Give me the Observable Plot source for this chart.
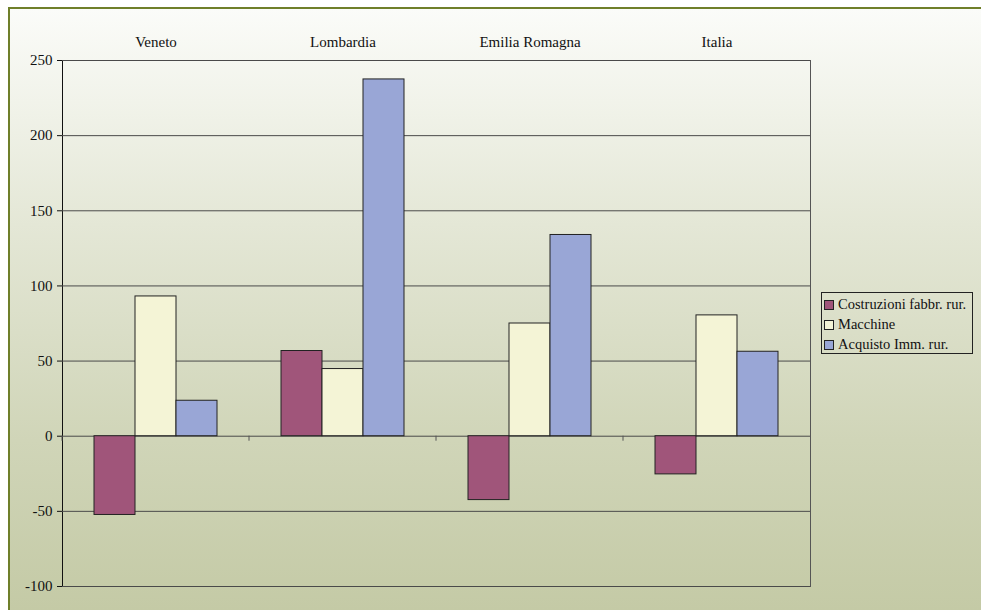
<!DOCTYPE html>
<html>
<head>
<meta charset="utf-8">
<script src="https://cdn.jsdelivr.net/npm/d3@7"></script>
<script src="https://cdn.jsdelivr.net/npm/@observablehq/plot@0.6"></script>
<style>
  html, body { margin: 0; padding: 0; background: #ffffff; }
  #wrap { position: relative; width: 981px; height: 610px; overflow: hidden; }
  #bg { position: absolute; left: 8px; top: 7px; width: 990px; height: 620px;
        border: 2px solid #6f7f2a; box-sizing: border-box;
        background: linear-gradient(to bottom, #fbfcf9 0%, #e4e7d6 35%, #d0d5b8 70%, #c3c9a4 100%); }
  #chart { position: absolute; left: 0; top: 0; }
  #legend { position: absolute; left: 821px; top: 292px; width: 152px; height: 62px;
            box-sizing: border-box; border: 1px solid #222; background: transparent;
            font-family: "Liberation Serif", "Times New Roman", serif; font-size: 14.5px; color: #111; }
  #legend .row { position: absolute; left: 2px; height: 20px; line-height: 20px; white-space: nowrap; }
  #legend .sw { display: inline-block; width: 8px; height: 8px; border: 1px solid #222;
                vertical-align: middle; margin-right: 4px; position: relative; top: -1px; }
</style>
</head>
<body>
<div id="wrap">
  <div id="bg"></div>
  <div id="chart"></div>
  <div id="legend"></div>
</div>
<script>
const regions = ["Veneto", "Lombardia", "Emilia Romagna", "Italia"];
const series = ["Costruzioni fabbr. rur.", "Macchine", "Acquisto Imm. rur."];
const costruzioni = [-52.4, 56.7, -42.5, -25.4];
const macchine = [93.0, 44.7, 75.0, 80.4];
const acquisto = [23.6, 237.4, 133.9, 56.2];
const yTicks = [-100, -50, 0, 50, 100, 150, 200, 250];
const colors = ["#a0557a", "#f4f4d6", "#99a6d6"];

const seriesValues = [costruzioni, macchine, acquisto];
const data = [];
regions.forEach((r, i) => series.forEach((s, j) => data.push({region: r, series: s, value: seriesValues[j][i]})));

const svgns = "http://www.w3.org/2000/svg";
// small category-boundary ticks on the zero line (left edge of each facet)
const boundaryTicks = (index, scales) => {
  const g = document.createElementNS(svgns, "g");
  const x0 = scales.x.range()[0];
  const y0 = scales.y(0);
  const l = document.createElementNS(svgns, "line");
  l.setAttribute("x1", x0); l.setAttribute("x2", x0);
  l.setAttribute("y1", y0); l.setAttribute("y2", y0 + 5);
  l.setAttribute("stroke", "#555");
  g.appendChild(l);
  return g;
};

const chart = Plot.plot({
  width: 981,
  height: 610,
  marginLeft: 61,
  marginRight: 171,
  marginTop: 60,
  marginBottom: 24,
  style: {background: "transparent", fontFamily: "'Liberation Serif', 'Times New Roman', serif", fontSize: "15px", color: "#111"},
  fx: {domain: regions, padding: 0, axis: "top", label: null, tickSize: 0, tickPadding: 14},
  x: {domain: series, paddingInner: 0, paddingOuter: 0.73, axis: null},
  y: {domain: [-100, 250], ticks: yTicks, tickSize: 5, tickPadding: 5, label: null, line: true, tickFormat: (d) => String(d)},
  color: {domain: series, range: colors},
  marks: [
    Plot.ruleY(yTicks, {stroke: "#4a4a4a", strokeWidth: 1}),
    Plot.frame({anchor: "right", fx: () => regions[regions.length - 1], stroke: "#555"}),
    boundaryTicks,
    Plot.barY(data, {fx: "region", x: "series", y: "value", fill: "series", stroke: "#222", strokeWidth: 1})
  ]
});
document.getElementById("chart").appendChild(chart);

const legend = document.getElementById("legend");
series.forEach((s, j) => {
  const row = document.createElement("div");
  row.className = "row";
  row.style.top = (1 + j * 20) + "px";
  const sw = document.createElement("span");
  sw.className = "sw";
  sw.style.background = colors[j];
  row.appendChild(sw);
  row.appendChild(document.createTextNode(s));
  legend.appendChild(row);
});
</script>
</body>
</html>
